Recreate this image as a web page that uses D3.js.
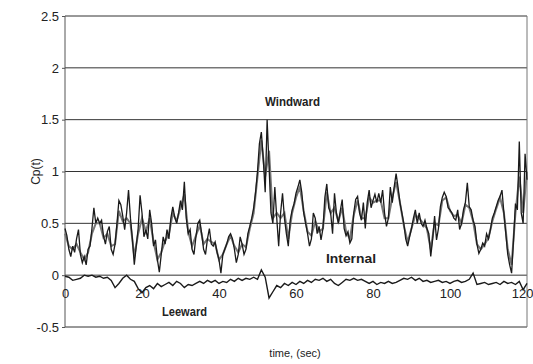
<!DOCTYPE html>
<html>
<head>
<meta charset="utf-8">
<script src="https://cdn.jsdelivr.net/npm/d3@7"></script>
<style>
  body { margin: 0; background: #fff; }
  svg { display: block; font-family: "Liberation Sans", Arial, sans-serif; }
  .lbl { font-family: "Liberation Sans", Arial, sans-serif; font-weight: bold; font-size: 13px; fill: #222; }
</style>
</head>
<body>
<svg id="chart" width="533" height="364"></svg>
<script>
// Windward Cp, sampled every 0.5 s from 0 to 120 s
const windStep = 0.5;
const windward = [
  0.45, 0.38, 0.25, 0.18, 0.28, 0.22, 0.35, 0.44, 0.20, 0.12,
  0.18, 0.10, 0.25, 0.28, 0.45, 0.65, 0.50, 0.55, 0.50, 0.53,
  0.38, 0.30, 0.42, 0.47, 0.25, 0.20, 0.30, 0.50, 0.72, 0.68,
  0.57, 0.44, 0.60, 0.82, 0.55, 0.35, 0.10, 0.28, 0.45, 0.77,
  0.60, 0.37, 0.44, 0.35, 0.63, 0.50, 0.28, 0.34, 0.15, 0.03,
  0.20, 0.37, 0.30, 0.44, 0.35, 0.55, 0.66, 0.56, 0.50, 0.60,
  0.72, 0.63, 0.90, 0.55, 0.40, 0.44, 0.25, 0.20, 0.37, 0.50,
  0.53, 0.40, 0.25, 0.20, 0.35, 0.45, 0.30, 0.28, 0.32, 0.22,
  0.15, 0.02, 0.20, 0.25, 0.30, 0.37, 0.40, 0.35, 0.25, 0.12,
  0.20, 0.37, 0.30, 0.20, 0.25, 0.40, 0.47, 0.55, 0.65, 0.80,
  1.00, 1.27, 1.38, 1.12, 0.80, 1.50, 1.05, 0.60, 0.50, 0.85,
  0.55, 0.28, 0.60, 0.79, 0.55, 0.40, 0.28, 0.53, 0.63, 0.69,
  0.79, 0.85, 0.92, 0.80, 0.60, 0.50, 0.40, 0.28, 0.35, 0.60,
  0.55, 0.40, 0.47, 0.34, 0.45, 0.75, 0.88, 0.65, 0.60, 0.40,
  0.79, 0.60, 0.50, 0.62, 0.73, 0.45, 0.38, 0.42, 0.31, 0.35,
  0.60, 0.73, 0.76, 0.60, 0.53, 0.70, 0.45, 0.70, 0.82, 0.65,
  0.72, 0.78, 0.70, 0.79, 0.70, 0.82, 0.60, 0.47, 0.55, 0.85,
  0.70, 0.85, 0.98, 0.85, 0.70, 0.60, 0.50, 0.35, 0.28, 0.37,
  0.45, 0.55, 0.63, 0.50, 0.60, 0.50, 0.47, 0.53, 0.45, 0.40,
  0.18, 0.35, 0.57, 0.34, 0.45, 0.66, 0.75, 0.80, 0.76, 0.65,
  0.63, 0.60, 0.55, 0.53, 0.63, 0.44, 0.50, 0.63, 0.70, 0.89,
  0.66, 0.63, 0.53, 0.47, 0.30, 0.21, 0.25, 0.31, 0.28, 0.40,
  0.35, 0.44, 0.55, 0.60, 0.66, 0.72, 0.76, 0.82, 0.60, 0.40,
  0.20, 0.10, 0.02, 0.34, 0.69, 0.63, 1.29, 0.60, 0.50, 1.17,
  0.92
];

// Internal Cp, every 1 s
const intStep = 1;
const internal = [
  0.40, 0.28, 0.25, 0.30, 0.22, 0.15, 0.22, 0.40, 0.50, 0.50,
  0.36, 0.40, 0.28, 0.30, 0.62, 0.52, 0.55, 0.50, 0.18, 0.40,
  0.55, 0.42, 0.55, 0.32, 0.15, 0.22, 0.33, 0.40, 0.60, 0.52,
  0.65, 0.78, 0.42, 0.28, 0.38, 0.48, 0.30, 0.35, 0.32, 0.30,
  0.15, 0.20, 0.30, 0.38, 0.28, 0.22, 0.30, 0.27, 0.45, 0.60,
  0.95, 1.30, 0.95, 1.20, 0.55, 0.60, 0.55, 0.60, 0.35, 0.60,
  0.75, 0.85, 0.62, 0.42, 0.38, 0.52, 0.42, 0.45, 0.80, 0.60,
  0.65, 0.52, 0.65, 0.42, 0.35, 0.58, 0.72, 0.55, 0.55, 0.75,
  0.70, 0.72, 0.72, 0.55, 0.55, 0.75, 0.90, 0.70, 0.48, 0.32,
  0.45, 0.58, 0.55, 0.50, 0.45, 0.25, 0.50, 0.48, 0.72, 0.75,
  0.62, 0.57, 0.58, 0.50, 0.68, 0.65, 0.52, 0.30, 0.25, 0.30,
  0.36, 0.52, 0.64, 0.75, 0.60, 0.25, 0.10, 0.60, 0.95, 0.60,
  1.00
];

// Leeward Cp, every 1 s
const leeStep = 1;
const leeward = [
  -0.01, -0.02, -0.05, -0.04, -0.03, 0.00, -0.01, 0.00, -0.02, -0.01,
  -0.03, -0.02, -0.05, -0.12, -0.08, -0.03, 0.00, -0.04, -0.06, -0.13,
  -0.17, -0.12, -0.10, -0.13, -0.08, -0.11, -0.09, -0.07, -0.10, -0.06,
  -0.08, -0.12, -0.09, -0.10, -0.08, -0.06, -0.08, -0.05, -0.07, -0.05,
  -0.08, -0.06, -0.07, -0.04, -0.06, -0.03, -0.05, -0.03, -0.04, -0.02,
  -0.04, 0.05, -0.02, -0.22, -0.16, -0.10, -0.12, -0.08, -0.10, -0.07,
  -0.09, -0.06, -0.08, -0.05, -0.07, -0.04, -0.05, -0.03, -0.06, -0.04,
  -0.08, -0.10, -0.07, -0.04, -0.05, -0.03, -0.05, -0.04, -0.06, -0.08,
  -0.06, -0.09, -0.07, -0.08, -0.06, -0.08, -0.07, -0.05, -0.03, -0.04,
  -0.02, -0.05, -0.03, -0.06, -0.05, -0.07, -0.06, -0.05, -0.07, -0.06,
  -0.08, -0.06, -0.05, -0.07, -0.06, -0.04, 0.02, -0.09, -0.08, -0.07,
  -0.09, -0.08, -0.07, -0.09, -0.06, -0.08, -0.07, -0.09, -0.06, -0.14,
  -0.08
];

const yTicks = [-0.5, 0, 0.5, 1, 1.5, 2, 2.5];
const xTicks = [0, 20, 40, 60, 80, 100, 120];

const svg = d3.select("#chart");
const margin = { top: 16, right: 6, bottom: 37, left: 65 };
const W = 533, H = 364;

const x = d3.scaleLinear().domain([0, 120]).range([margin.left, W - margin.right]);
const y = d3.scaleLinear().domain([-0.5, 2.5]).range([H - margin.bottom, margin.top]);

// grid lines
svg.append("g")
  .selectAll("line")
  .data(yTicks)
  .join("line")
    .attr("x1", x(0)).attr("x2", x(120))
    .attr("y1", d => y(d)).attr("y2", d => y(d))
    .attr("stroke", "#333").attr("stroke-width", 1);

// frame left/right
svg.append("line").attr("x1", x(0)).attr("x2", x(0)).attr("y1", y(2.5)).attr("y2", y(-0.5)).attr("stroke", "#555");
svg.append("line").attr("x1", x(120)).attr("x2", x(120)).attr("y1", y(2.5)).attr("y2", y(-0.5)).attr("stroke", "#777");

// y axis labels
const yAxis = svg.append("g")
  .attr("transform", `translate(${margin.left},0)`)
  .call(d3.axisLeft(y).tickValues(yTicks).tickFormat(d => String(d)).tickSize(3));
yAxis.select(".domain").remove();
yAxis.selectAll("text").attr("font-size", 13).attr("fill", "#222").attr("font-family", "'Liberation Sans', Arial, sans-serif");
yAxis.selectAll("line").attr("stroke", "#555");

svg.append("text")
  .attr("transform", `translate(40,${y(1)}) rotate(-90)`)
  .attr("text-anchor", "middle")
  .attr("font-size", 12).attr("fill", "#222")
  .text("Cp(t)");

// series lines
const path = (data, step) => d3.line()
  .x((d, i) => x(i * step))
  .y(d => y(d))(data);

svg.append("path").attr("d", path(internal, intStep))
  .attr("fill", "none").attr("stroke", "#777").attr("stroke-width", 2);
svg.append("path").attr("d", path(windward, windStep))
  .attr("fill", "none").attr("stroke", "#1a1a1a").attr("stroke-width", 1.3);
svg.append("path").attr("d", path(leeward, leeStep))
  .attr("fill", "none").attr("stroke", "#1a1a1a").attr("stroke-width", 1.4);

// x axis labels sitting on the zero line
const xAxis = svg.append("g")
  .attr("transform", `translate(0,${y(0)})`)
  .call(d3.axisBottom(x).tickValues(xTicks).tickSize(0).tickPadding(14));
xAxis.select(".domain").remove();
xAxis.selectAll("text").attr("font-size", 13).attr("fill", "#222").attr("font-family", "'Liberation Sans', Arial, sans-serif");
xAxis.selectAll("text").filter(d => d === 120).attr("text-anchor", "end").attr("dx", 6);

svg.append("text")
  .attr("x", 295).attr("y", 357)
  .attr("text-anchor", "middle")
  .attr("font-size", 11).attr("fill", "#222")
  .text("time, (sec)");

// series labels, squeezed like a narrow font
const labels = [
  { text: "Windward", x: 265, y: 106, w: 55 },
  { text: "Internal", x: 326, y: 263, w: 50 },
  { text: "Leeward", x: 162, y: 316, w: 45 }
];
svg.append("g").selectAll("text")
  .data(labels)
  .join("text")
    .attr("class", "lbl")
    .attr("x", d => d.x).attr("y", d => d.y)
    .attr("textLength", d => d.w)
    .attr("lengthAdjust", "spacingAndGlyphs")
    .text(d => d.text);
</script>
</body>
</html>
